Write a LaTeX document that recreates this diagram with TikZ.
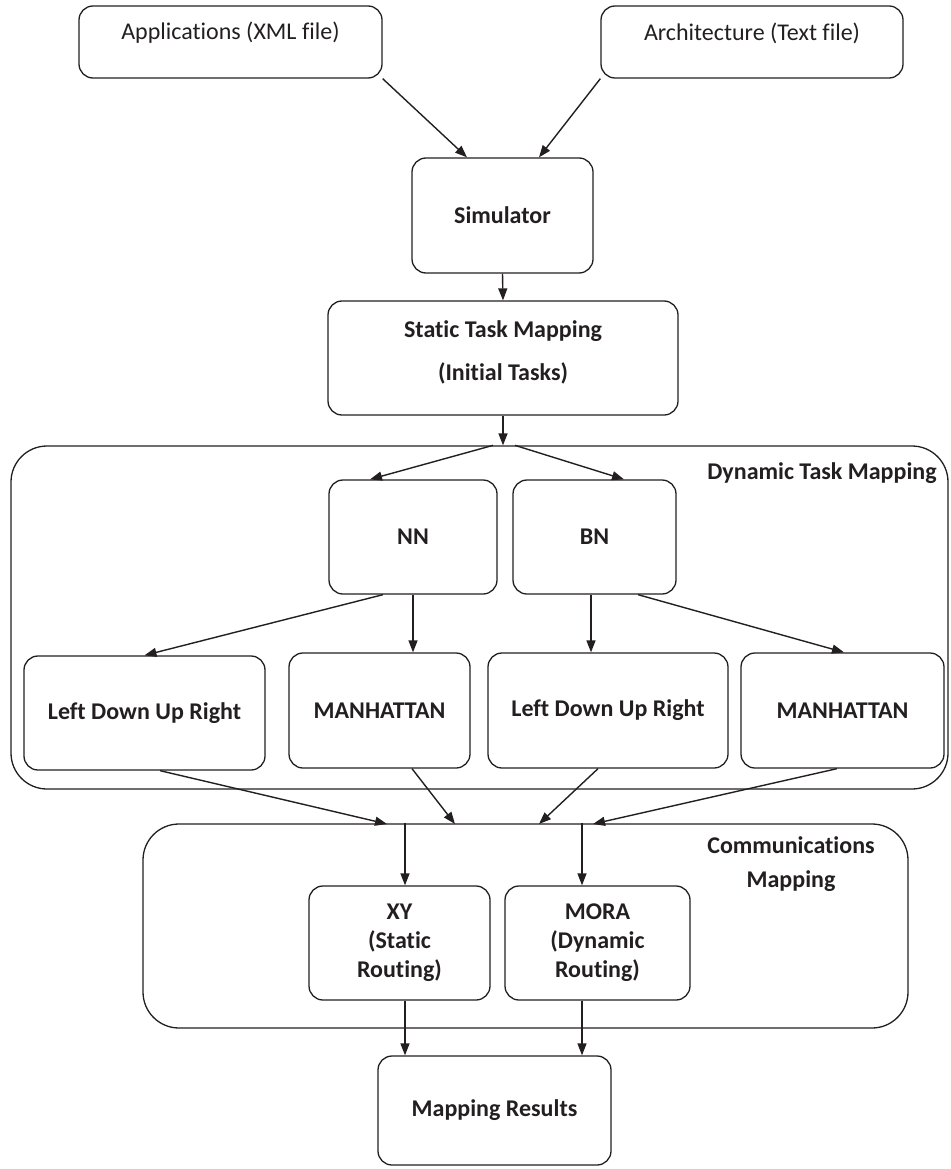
\documentclass[tikz,border=0pt]{standalone}
\usepackage{fontspec}
\setmainfont{Carlito}[Ligatures=NoCommon]
\usetikzlibrary{arrows.meta}
\definecolor{ink}{HTML}{231F20}
\begin{document}
\begin{tikzpicture}[x=1pt,y=-1pt, color=ink,
  box/.style={draw, line width=1.3pt, rounded corners=14pt, inner sep=0pt, align=center,
    font=\fontsize{24}{29}\selectfont\bfseries},
  group/.style={draw, line width=1.3pt, rounded corners=36pt, inner sep=0pt},
  txt/.style={font=\fontsize{24}{28}\selectfont},
  btxt/.style={font=\fontsize{24}{34}\selectfont\bfseries, align=center},
  arr/.style={line width=1.4pt, -{Triangle[length=12pt,width=9pt]}},
]
\useasboundingbox (0,0) rectangle (950,1169);

% input files and simulator
\node[box, minimum width=303pt, minimum height=72pt,
  label={[txt, yshift=9pt]center:Applications (XML file)}] (apps) at (230.5,42) {};
\node[box, minimum width=302pt, minimum height=72pt,
  label={[txt, yshift=9pt]center:Architecture (Text file)}] (arch) at (752,42) {};
\node[box, minimum width=181pt, minimum height=115pt] (sim) at (502.5,215.5) {Simulator};
\node[box, minimum width=350pt, minimum height=114pt,
  label={[btxt, font=\fontsize{24}{43}\selectfont\bfseries, yshift=6pt]center:Static Task Mapping\\(Initial Tasks)}] (static) at (503,358) {};

% dynamic task mapping group
\node[group, minimum width=937pt, minimum height=343pt] (dyn) at (479.5,617.5) {};
\node[btxt, anchor=center] (dynlbl) at (822,473) {Dynamic Task Mapping};
\node[box, minimum width=168pt, minimum height=114pt] (nn) at (413,537) {NN};
\node[box, minimum width=163pt, minimum height=114pt] (bn) at (594.5,537) {BN};
\node[box, minimum width=241pt, minimum height=114pt] (ldur1) at (144.5,713) {Left Down Up Right};
\node[box, minimum width=181pt, minimum height=115pt] (manh1) at (379.5,710.5) {MANHATTAN};
\node[box, minimum width=240pt, minimum height=115pt] (ldur2) at (608,710.5) {Left Down Up Right};
\node[box, minimum width=203pt, minimum height=115pt] (manh2) at (842.5,710.5) {MANHATTAN};

% communications mapping group
\node[group, minimum width=765pt, minimum height=204pt] (comm) at (525.5,926) {};
\node[btxt] (commlbl) at (791,864) {Communications\\Mapping};
\node[box, minimum width=181pt, minimum height=114pt] (xy) at (399.5,943) {XY\\(Static\\Routing)};
\node[box, minimum width=185pt, minimum height=114pt] (mora) at (597.5,943) {MORA\\(Dynamic\\Routing)};

% result
\node[box, minimum width=233pt, minimum height=109pt] (res) at (494.5,1110.5) {Mapping Results};

% connector end points on the group borders
\coordinate (split) at (static.south |- dyn.north);
\coordinate (in1) at (387,824);
\coordinate (in2) at (455,824);
\coordinate (in3) at (539,824);
\coordinate (in4) at (593,824);
\coordinate (outxy) at ([xshift=5.5pt]xy.north |- comm.north);
\coordinate (outmora) at ([xshift=-15.5pt]mora.north |- comm.north);

% connectors
\draw[arr] (apps.south east) -- ([xshift=-35.5pt]sim.north);
\draw[arr] (arch.south west) -- ([xshift=36.5pt]sim.north);
\draw[arr] (sim.south) -- (static.north);
\draw[arr] (static.south) -- (split);
\draw[arr] ([xshift=-10pt]split) -- ([xshift=-43pt]nn.north);
\draw[arr] ([xshift=12pt]split) -- ([xshift=29.5pt]bn.north);
\draw[arr] ([xshift=-30pt]nn.south) -- (ldur1.north);
\draw[arr] (nn.south) -- (nn.south |- manh1.north);
\draw[arr] ([xshift=-3.5pt]bn.south) -- ([xshift=-3.5pt]bn.south |- ldur2.north);
\draw[arr] ([xshift=43.5pt]bn.south) -- ([xshift=1.5pt]manh2.north);
\draw[arr] ([xshift=15.5pt]ldur1.south) -- (in1);
\draw[arr] ([xshift=32.5pt]manh1.south) -- (in2);
\draw[arr] ([xshift=-10pt]ldur2.south) -- (in3);
\draw[arr] ([xshift=-5.5pt]manh2.south) -- (in4);
\draw[arr] (outxy) -- (outxy |- xy.north);
\draw[arr] (outmora) -- (outmora |- mora.north);
\draw[arr] (outxy |- xy.south) -- (outxy |- res.north);
\draw[arr] (outmora |- mora.south) -- (outmora |- res.north);
\end{tikzpicture}
\end{document}
